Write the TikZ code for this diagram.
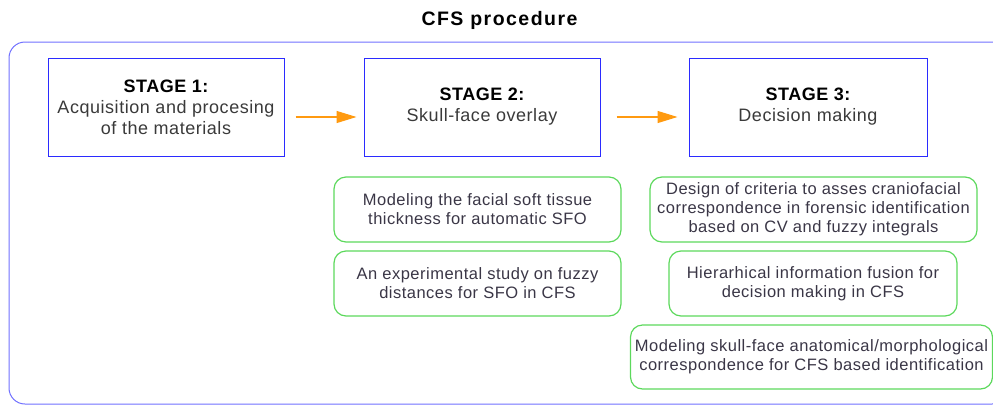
\documentclass[tikz,border=0pt]{standalone}
\usepackage{fontspec}
\setmainfont{Liberation Sans}
\newfontfamily\spacedfont[LetterSpace=3]{Liberation Sans}
\newfontfamily\titlefont[LetterSpace=7.5]{Liberation Sans}
\usetikzlibrary{arrows.meta,calc}
\definecolor{stageblue}{HTML}{2B2BFF}
\definecolor{outerblue}{HTML}{7070FF}
\definecolor{boxgreen}{HTML}{5CD85C}
\definecolor{arroworange}{HTML}{FF9A10}
\definecolor{txtgray}{HTML}{3A3A3A}
\definecolor{txtgreen}{HTML}{3A3646}
\tikzset{
  stagebox/.style={draw=stageblue, line width=1pt, minimum height=98pt, align=center, inner sep=2pt,
    text=txtgray, font=\spacedfont\fontsize{18}{21}\selectfont},
  greenbox/.style={draw=boxgreen, line width=1.2pt, rounded corners=12pt, minimum height=65pt,
    align=center, inner sep=2pt, text=txtgreen, font=\spacedfont\fontsize{16.5}{19}\selectfont},
  flowarrow/.style={draw=arroworange, line width=1.3pt, -{Triangle[length=20pt,width=12pt]}},
}
\begin{document}
\begin{tikzpicture}[x=1pt,y=1pt]
\useasboundingbox (0,0) rectangle (993,-405);
\clip (0,0) rectangle (993,-405);
\draw[outerblue, line width=1pt, rounded corners=16pt] (9,-42) rectangle (1008,-404);
\node[font=\titlefont\fontsize{19.5}{24}\selectfont\bfseries, text=black] (title) at (499.5,-20) {CFS procedure};
\node[stagebox, minimum width=236pt] (s1) at (166,-107) {\textbf{\color{black}STAGE 1:}\\Acquisition and procesing\\of the materials};
\node[stagebox, minimum width=236pt] (s2) at (482,-107) {\textbf{\color{black}STAGE 2:}\\Skull-face overlay};
\node[stagebox, minimum width=238pt] (s3) at (808,-107) {\textbf{\color{black}STAGE 3:}\\Decision making};
\draw[flowarrow] ($(s1.east)+(11,-10)$) -- ($(s2.west)+(-7,-10)$);
\draw[flowarrow] ($(s2.east)+(16,-10)$) -- ($(s3.west)+(-11,-10)$);
\node[greenbox, minimum width=287pt] (g1) at (477.5,-209.5) {Modeling the facial soft tissue\\thickness for automatic SFO};
\node[greenbox, minimum width=287pt] (g2) at (477.5,-283.5) {An experimental study on fuzzy\\distances for SFO in CFS};
\node[greenbox, minimum width=327pt] (g3) at (813.5,-209.5) {Design of criteria to asses craniofacial\\correspondence in forensic identification\\based on CV and fuzzy integrals};
\node[greenbox, minimum width=288pt] (g4) at (813,-283.5) {Hierarhical information fusion for\\decision making in CFS};
\node[greenbox, minimum width=362pt, minimum height=64pt] (g5) at (811.5,-357) {Modeling skull-face anatomical/morphological\\correspondence for CFS based identification};
\end{tikzpicture}
\end{document}
